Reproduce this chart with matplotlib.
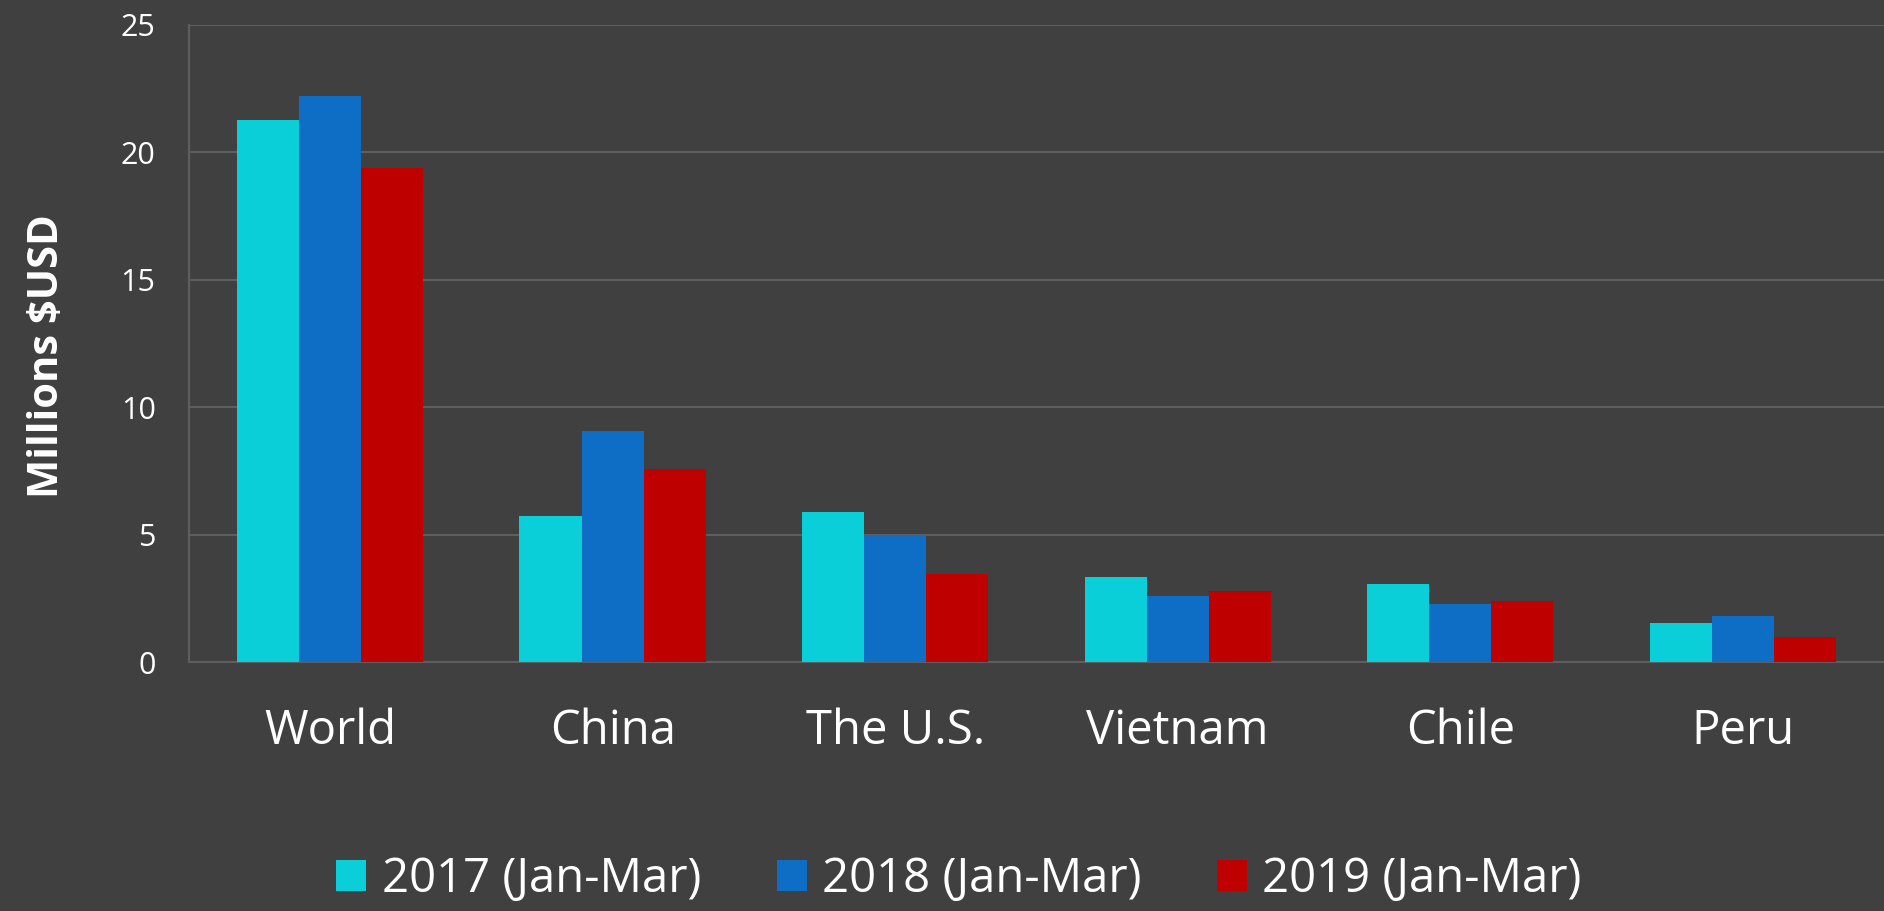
import numpy as np
import matplotlib.pyplot as plt
from matplotlib.patches import Patch

countries = ['World', 'China', 'The U.S.', 'Vietnam', 'Chile', 'Peru']
series_names = ['2017 (Jan-Mar)', '2018 (Jan-Mar)', '2019 (Jan-Mar)']
values_2017 = [21.29, 5.73, 5.89, 3.35, 3.05, 1.54]
values_2018 = [22.20, 9.08, 4.97, 2.60, 2.28, 1.82]
values_2019 = [19.38, 7.56, 3.45, 2.80, 2.38, 0.99]
y_ticks = [0, 5, 10, 15, 20, 25]

colors = ['#0BCFD8', '#0E6EC5', '#BE0000']
bg = '#404040'
grid_col = '#5E5E5E'
font = ['Open Sans', 'DejaVu Sans']

fig = plt.figure(figsize=(18.84, 9.11), dpi=100, facecolor=bg)
ax = fig.add_axes([0.1003, 0.2733, 0.8997, 0.6993], facecolor=bg)

x = np.arange(len(countries))
w = 0.22
for i, vals in enumerate([values_2017, values_2018, values_2019]):
    ax.bar(x + (i - 1) * w, vals, width=w, color=colors[i], zorder=3)

ax.set_xlim(-0.5, len(countries) - 0.5)
ax.set_ylim(0, 25)
ax.set_yticks(y_ticks)
ax.set_yticklabels([str(t) for t in y_ticks], fontsize=22, color='white', family=font)
ax.set_xticks(x)
ax.set_xticklabels(countries, fontsize=34, color='white', family=font)
ax.tick_params(axis='both', length=0)
ax.tick_params(axis='x', pad=33)
ax.tick_params(axis='y', pad=24)
ax.grid(axis='y', color=grid_col, linewidth=1.5, zorder=0)

for side in ['top', 'right']:
    ax.spines[side].set_visible(False)
for side in ['left', 'bottom']:
    ax.spines[side].set_color(grid_col)
    ax.spines[side].set_linewidth(1.5)

ax.set_ylabel('Millions $USD', fontsize=30, fontweight='bold', color='white',
              family=font)
ax.yaxis.set_label_coords(-0.0713, 0.48)

handles = [Patch(facecolor=c, edgecolor='none') for c in colors]
fig.legend(handles, series_names, loc='lower center', ncol=3, frameon=False,
           bbox_to_anchor=(0.509, -0.012), borderaxespad=0,
           prop={'family': font, 'size': 34}, labelcolor='white',
           handlelength=0.64, handleheight=0.64, handletextpad=0.32,
           columnspacing=1.6)

fig.savefig('out.png', dpi=100, facecolor=bg)
